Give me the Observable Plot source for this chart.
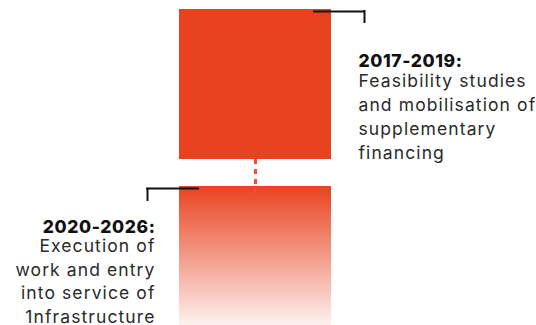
<!DOCTYPE html>
<html>
<head>
<meta charset="utf-8">
<script src="https://cdn.jsdelivr.net/npm/d3@7"></script>
<script src="https://cdn.jsdelivr.net/npm/@observablehq/plot@0.6"></script>
<style>
  html, body { margin: 0; padding: 0; background: #fff; overflow: hidden; }
  svg { display: block; }
  svg text { letter-spacing: 1.1px; }
  svg g[font-weight="800"] text { letter-spacing: 0.6px; }
</style>
</head>
<body>
<div id="chart"></div>
<script>
// Data
const periods = ["2017-2019:", "2020-2026:"];
const descriptions = [
  "Feasibility studies\nand mobilisation of\nsupplementary\nfinancing",
  "Execution of\nwork and entry\ninto service of\n1nfrastructure"
];
const phases = periods.map((period, i) => ({period, text: descriptions[i]}));

const RED = "#E8431F";
const FONT = "Inter, sans-serif";

const defs = () => {
  const d = d3.create("svg:defs");
  const g = d.append("linearGradient").attr("id", "fade").attr("x1", 0).attr("y1", 0).attr("x2", 0).attr("y2", 1);
  g.append("stop").attr("offset", "0%").attr("stop-color", RED);
  g.append("stop").attr("offset", "100%").attr("stop-color", "#ffffff");
  return d.node();
};

const plot = Plot.plot({
  width: 536,
  height: 325,
  margin: 0,
  style: {background: "#fff", fontFamily: FONT, overflow: "hidden"},
  x: {domain: [0, 536], range: [0, 536], axis: null},
  y: {type: "band", domain: periods, range: [9, 336], paddingInner: 27 / 177, paddingOuter: 0, axis: null},
  marks: [
    defs,
    // phase blocks
    Plot.barX([phases[0]], {y: "period", x1: 179, x2: 331, fill: RED}),
    Plot.barX([phases[1]], {y: "period", x1: 179, x2: 331, fill: "url(#fade)"}),
    // dotted connector between the two blocks
    Plot.ruleX([0], {x: 255, y1: () => periods[1], y2: () => periods[0], insetTop: 8,
      stroke: "#EF5034", strokeWidth: 3, strokeDasharray: "5,5"}),
    // brackets
    Plot.ruleY([phases[0]], {y: "period", x1: 313, x2: 365, dy: -73, stroke: "#111", strokeWidth: 2}),
    Plot.tickX([phases[0]], {y: "period", x: 364, insetTop: 1, insetBottom: 136, stroke: "#111", strokeWidth: 2}),
    Plot.ruleY([phases[1]], {y: "period", x1: 146, x2: 199, dy: -73, stroke: "#111", strokeWidth: 2}),
    Plot.tickX([phases[1]], {y: "period", x: 147, insetTop: 2, insetBottom: 135, stroke: "#111", strokeWidth: 2}),
    // labels
    Plot.text([phases[0]], {y: "period", x: 358, text: "period", textAnchor: "start", lineAnchor: "bottom",
      dy: -18, fontSize: 17.5, fontWeight: 800, fill: "#111"}),
    Plot.text([phases[0]], {y: "period", x: 358, text: "text", textAnchor: "start", lineAnchor: "bottom",
      dy: 74, fontSize: 17.5, lineHeight: 1.355, fill: "#2a2a2a"}),
    Plot.text([phases[1]], {y: "period", x: 155, text: "period", textAnchor: "end", lineAnchor: "bottom",
      dy: -29, fontSize: 17.5, fontWeight: 800, fill: "#111"}),
    Plot.text([phases[1]], {y: "period", x: 155, text: "text", textAnchor: "end", lineAnchor: "bottom",
      dy: 61, fontSize: 17.5, lineHeight: 1.34, fill: "#2a2a2a"})
  ]
});
document.getElementById("chart").append(plot);
</script>
</body>
</html>
